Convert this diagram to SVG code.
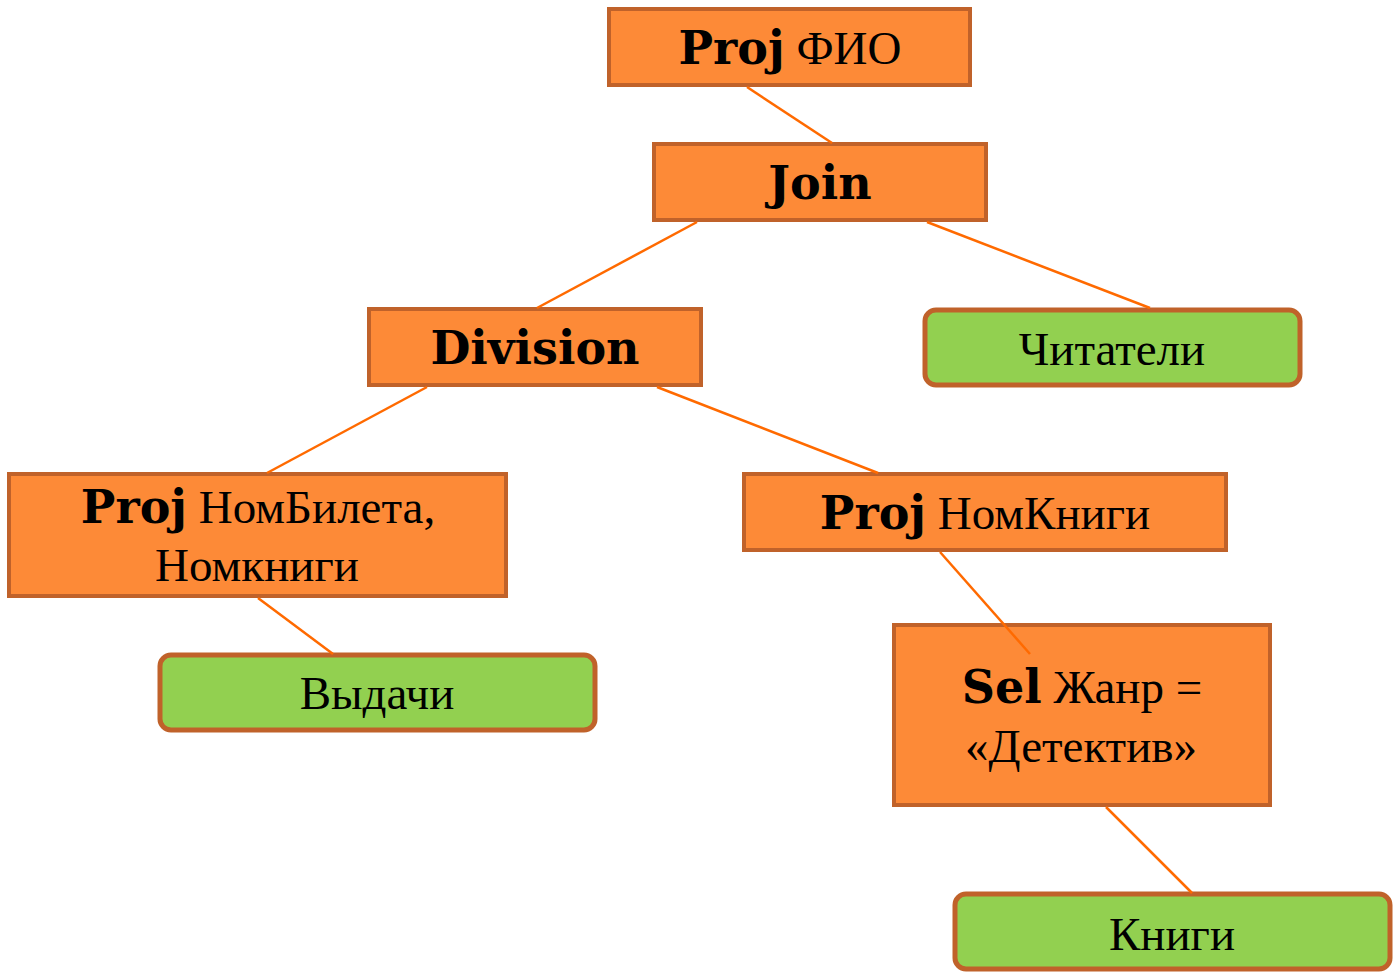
<svg xmlns="http://www.w3.org/2000/svg" width="1393" height="975" viewBox="0 0 1393 975">
<style>
.op{fill:#FD8A37;stroke:#C0622A;stroke-width:4}
.rel{fill:#92D050;stroke:#C0622A;stroke-width:5}
.t{font-family:"Liberation Serif","Times New Roman",serif;font-size:47px;fill:#000;text-anchor:middle}
.b{font-family:"DejaVu Serif","Liberation Serif",serif;font-weight:bold;font-size:46px}
.c{stroke:#FF6A00;stroke-width:2.5;fill:none}
</style>
<rect width="1393" height="975" fill="#fff"/>
<g id="n-projfio"><rect class="op" x="609" y="9" width="361" height="76"/><text class="t" x="790" y="64"><tspan class="b">Proj</tspan> ФИО</text></g>
<g id="n-join"><rect class="op" x="654" y="144" width="332" height="76"/><text class="t b" x="820" y="199">Join</text></g>
<g id="n-division"><rect class="op" x="369" y="309" width="332" height="76"/><text class="t b" x="535" y="364">Division</text></g>
<g id="n-chitateli"><rect class="rel" x="925" y="310" width="375" height="75" rx="11"/><text class="t" x="1112" y="365">Читатели</text></g>
<g id="n-projbilet"><rect class="op" x="9" y="474" width="497" height="122"/><text class="t" x="258" y="523"><tspan class="b">Proj</tspan> НомБилета,</text><text class="t" x="257" y="581">Номкниги</text></g>
<g id="n-projknigi"><rect class="op" x="744" y="474" width="482" height="76"/><text class="t" x="985" y="529"><tspan class="b">Proj</tspan> НомКниги</text></g>
<g id="n-vydachi"><rect class="rel" x="160" y="655" width="435" height="75" rx="11"/><text class="t" x="377" y="709">Выдачи</text></g>
<g id="n-sel"><rect class="op" x="894" y="625" width="376" height="180"/><text class="t" x="1082" y="703"><tspan class="b">Sel</tspan> Жанр =</text><text class="t" x="1081" y="762">«Детектив»</text></g>
<g id="n-knigi"><rect class="rel" x="955" y="894" width="435" height="75" rx="11"/><text class="t" x="1172" y="950">Книги</text></g>
<g id="connectors">
<line class="c" x1="747" y1="87" x2="832" y2="143"/>
<line class="c" x1="697" y1="222" x2="537" y2="308"/>
<line class="c" x1="927" y1="222" x2="1150" y2="308"/>
<line class="c" x1="427" y1="387" x2="267" y2="473"/>
<line class="c" x1="657" y1="387" x2="878" y2="473"/>
<line class="c" x1="258" y1="598" x2="333" y2="654"/>
<line class="c" x1="940" y1="552" x2="1030" y2="654"/>
<line class="c" x1="1106" y1="807" x2="1192" y2="893"/>
</g>
</svg>
